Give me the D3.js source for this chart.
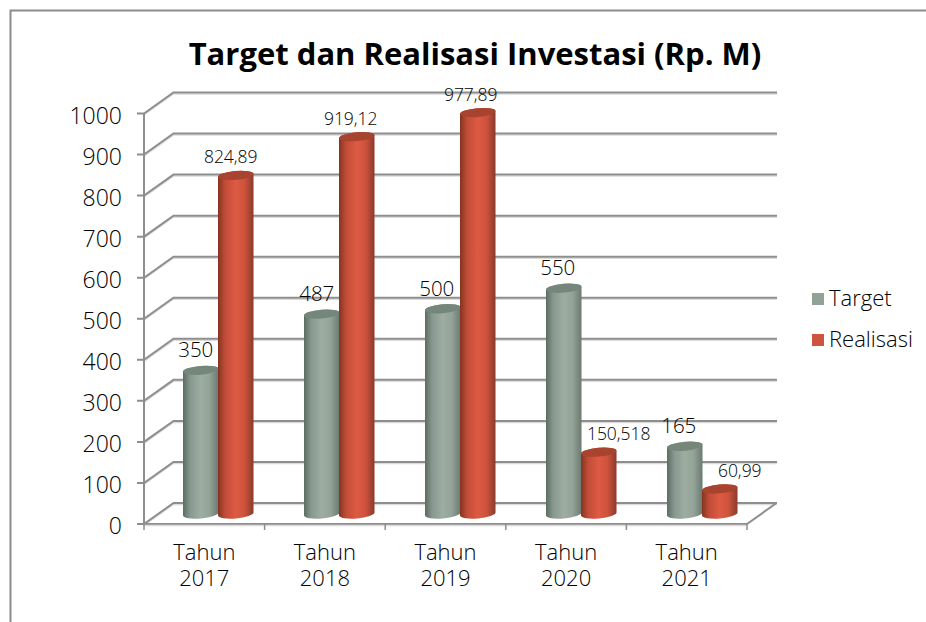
<!DOCTYPE html>
<html><head><meta charset="utf-8">
<script src="https://cdn.jsdelivr.net/npm/d3@7/dist/d3.min.js"></script>
<style>html,body{margin:0;background:#fff}svg{display:block}text{font-family:"Open Sans",sans-serif;fill:#000}</style>
</head><body><svg id="c" width="926" height="622"></svg>
<script>
const categories=[["Tahun","2017"],["Tahun","2018"],["Tahun","2019"],["Tahun","2020"],["Tahun","2021"]];
const seriesNames=["Target","Realisasi"];
const target=[350,487,500,550,165];
const realisasi=[824.89,919.12,977.89,150.518,60.99];
const targetLabels=["350","487","500","550","165"];
const realisasiLabels=["824,89","919,12","977,89","150,518","60,99"];
const yTicks=[0,100,200,300,400,500,600,700,800,900,1000];
const targetNudge=[-5,-5,-6,-6,-6];
const realisasiNudge=[-5,-6,-7,20,20];

const svg=d3.select("#c");
const defs=svg.append("defs");
function grad(id,stops){
  const g=defs.append("linearGradient").attr("id",id).attr("x1",0).attr("x2",1).attr("y1",0).attr("y2",0);
  stops.forEach(([o,c])=>g.append("stop").attr("offset",o).attr("stop-color",c));
}
grad("gT",[[0,"#5b6c63"],[.2,"#879890"],[.5,"#9dada2"],[.75,"#93a398"],[1,"#6a7a70"]]);
grad("gR",[[0,"#84341f"],[.2,"#c04d38"],[.5,"#de5a43"],[.75,"#cd523c"],[1,"#8a3a2c"]]);

// frame
svg.append("path").attr("d","M926,10.5H10.5V622").attr("fill","none").attr("stroke","#8c8c8c").attr("stroke-width",2);

const x0=144,x1=747,dx=29.5,dy=21;
const yFront=d3.scaleLinear().domain([0,1000]).range([524,113.5]);
const x=d3.scaleBand().domain(d3.range(categories.length)).range([x0,x1]);
const xBar=d3.scaleBand().domain(d3.range(categories.length)).range([183,788]);
const grid="#8e8e8e", shadow="#dcdcdc";

const g=svg.append("g");
function ln(d,col,w){g.append("path").attr("d",d).attr("fill","none").attr("stroke",col).attr("stroke-width",w);}
yTicks.forEach(t=>{
  const y=yFront(t);
  ln(`M${x0},${y+1.5}L${x0+dx},${y-dy+1.5}H${x1+dx+.5}`,shadow,1.5);
});
yTicks.forEach(t=>{
  const y=yFront(t);
  ln(`M${x0-7},${y}H${x0}L${x0+dx},${y-dy}H${x1+dx+.5}`,grid,2);
});
ln(`M${x0},${yFront(1000)}V${yFront(0)}H${x1}L${x1+dx},${yFront(0)-dy}`,grid,2);
ln(`M${x0},${yFront(0)+1.5}H${x1}`,shadow,1.5);
d3.range(categories.length+1).forEach(i=>{
  const tx=x0+i*x.bandwidth();
  ln(`M${tx},${yFront(0)}v6`,grid,1.5);
});

// tick labels
svg.append("g").selectAll("text").data(yTicks).join("text")
  .attr("x",122).attr("y",d=>yFront(d)+10).attr("text-anchor","end")
  .attr("font-size",23).attr("font-weight",300).text(d=>d);

// category labels
categories.forEach((c,i)=>{
  const cx=x(i)+x.bandwidth()/2;
  c.forEach((t,j)=>svg.append("text").attr("x",cx).attr("y",560+j*26).attr("text-anchor","middle")
    .attr("font-size",22).attr("font-weight",300).text(t));
});

// bars
const barW=35.5, baseShift=10, rx=barW/2, ry=4.4;
const yBar=v=>yFront(v)-baseShift;
function cyl(bx,v,fill,top){
  const yT=yBar(v), yB=yBar(0), a=-5;
  const s=Math.sin(a*Math.PI/180)*rx;
  const m=bx+rx;
  g.append("path").attr("fill",`url(#${fill})`)
   .attr("d",`M${bx},${yT-s}L${bx},${yB-s}A${rx},${ry} ${a} 0 0 ${bx+barW},${yB+s}L${bx+barW},${yT+s}A${rx},${ry} ${a} 0 0 ${bx},${yT-s}Z`);
  g.append("ellipse").attr("cx",m).attr("cy",yT).attr("rx",rx).attr("ry",ry).attr("fill",top)
   .attr("transform",`rotate(${a} ${m} ${yT})`);
}
categories.forEach((c,i)=>{
  const bx=xBar(i);
  cyl(bx,target[i],"gT","#75867b");
  cyl(bx+barW-.5,realisasi[i],"gR","#a8432f");
});

// data labels
function labels(vals,txts,off,nudge,size,lift){
  svg.append("g").selectAll("text").data(vals).join("text")
   .attr("x",(d,i)=>xBar(i)+off+rx+nudge[i]).attr("y",d=>yBar(d)-lift)
   .attr("text-anchor","middle").attr("font-size",size).attr("font-weight",300)
   .text((d,i)=>txts[i]);
}
labels(target,targetLabels,0,targetNudge,20.5,13);
labels(realisasi,realisasiLabels,barW-.5,realisasiNudge,17.5,12);

// title
svg.append("text").attr("x",475).attr("y",65).attr("text-anchor","middle")
 .attr("font-size",31).attr("font-weight",700).text("Target dan Realisasi Investasi (Rp. M)");

// legend
const lc=["#91a397","#cf543f"];
seriesNames.forEach((n,i)=>{
  const yy=293+i*41;
  svg.append("rect").attr("x",812).attr("y",yy).attr("width",12).attr("height",12).attr("fill",lc[i]);
  svg.append("text").attr("x",829).attr("y",yy+13).attr("font-size",22).attr("font-weight",300).text(n);
});
</script></body></html>
